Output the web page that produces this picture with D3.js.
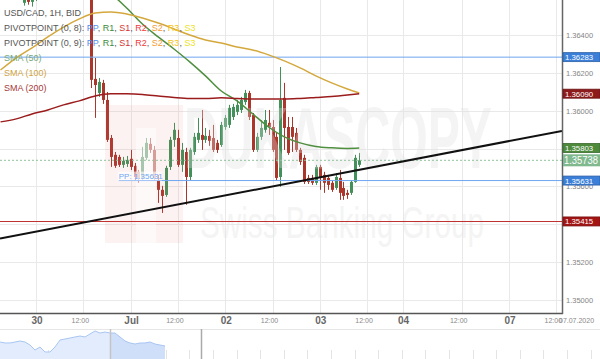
<!DOCTYPE html>
<html>
<head>
<meta charset="utf-8">
<script src="https://cdn.jsdelivr.net/npm/d3@7"></script>
<style>
  body { margin: 0; background: #fff; }
  svg { display: block; font-family: "Liberation Sans", Arial, sans-serif; }
</style>
</head>
<body>
<svg id="chart" width="600" height="359"></svg>
<script>
  // hourly candles, first one is 9 hours before 30 Jun 00:00
  const firstHour = -9;

  const opens = [1.36690,1.36675,1.36650,1.36670,1.36640,1.36620,1.36570,1.36615,1.36575,1.36630,
                 1.36660,1.36680,1.36700,1.36665,1.36630,1.36660,1.36645,1.36680,1.36720,1.36705,
                 1.36690,1.36665,1.36650,1.36640,1.36168,1.36094,1.36147,1.36057,1.35856,1.35767,
                 1.35756,1.35714,1.35719,1.35746,1.35709,1.35677,1.35645,1.35751,1.35825,1.35793,
                 1.35634,1.35582,1.35555,1.35703,1.35846,1.35856,1.35714,1.35782,1.35650,1.35782,
                 1.35846,1.35872,1.35846,1.35867,1.35856,1.35830,1.35819,1.35914,1.35925,1.35967,
                 1.35994,1.36004,1.36046,1.36094,1.35977,1.35793,1.35862,1.35899,1.35936,1.35914,
                 1.35862,1.35650,1.36068,1.35914,1.35914,1.35883,1.35793,1.35751,1.35645,1.35645,
                 1.35619,1.35703,1.35661,1.35645,1.35619,1.35592,1.35645,1.35592,1.35566,1.35566,
                 1.35624,1.35714];

  const highs = [1.36735,1.36710,1.36690,1.36700,1.36665,1.36650,1.36630,1.36640,1.36650,1.36680,
                 1.36700,1.36720,1.36730,1.36690,1.36680,1.36700,1.36690,1.36740,1.36760,1.36730,
                 1.36720,1.36700,1.36680,1.36665,1.36279,1.36173,1.36163,1.36099,1.35872,1.35782,
                 1.35767,1.35756,1.35761,1.35793,1.35724,1.35687,1.35809,1.35856,1.35856,1.35814,
                 1.35661,1.35603,1.35709,1.35862,1.35936,1.35899,1.35830,1.35804,1.35804,1.35883,
                 1.35962,1.36004,1.35909,1.35899,1.35925,1.35846,1.35941,1.35977,1.36031,1.36036,
                 1.36057,1.36073,1.36110,1.36105,1.35988,1.35883,1.35951,1.36004,1.36004,1.35951,
                 1.35883,1.36231,1.36147,1.35967,1.35967,1.35909,1.35804,1.35767,1.35661,1.35661,
                 1.35714,1.35714,1.35677,1.35661,1.35634,1.35671,1.35687,1.35624,1.35582,1.35634,
                 1.35767,1.35777];

  const lows = [1.36660,1.36640,1.36625,1.36630,1.36605,1.36595,1.36555,1.36560,1.36550,1.36580,
                1.36620,1.36645,1.36650,1.36590,1.36610,1.36630,1.36620,1.36660,1.36690,1.36670,
                1.36650,1.36630,1.36610,1.36120,1.35962,1.36073,1.36036,1.35835,1.35703,1.35698,
                1.35703,1.35698,1.35703,1.35687,1.35634,1.35619,1.35634,1.35740,1.35777,1.35629,
                1.35513,1.35460,1.35545,1.35687,1.35809,1.35703,1.35677,1.35503,1.35634,1.35767,
                1.35830,1.35793,1.35830,1.35814,1.35782,1.35777,1.35809,1.35899,1.35909,1.35951,
                1.35977,1.35988,1.36031,1.35951,1.35782,1.35782,1.35846,1.35883,1.35872,1.35782,
                1.35634,1.35598,1.35793,1.35767,1.35782,1.35782,1.35714,1.35613,1.35613,1.35608,
                1.35608,1.35582,1.35566,1.35582,1.35571,1.35582,1.35529,1.35529,1.35534,1.35555,
                1.35619,1.35703];

  const closes = [1.36675,1.36650,1.36670,1.36640,1.36620,1.36600,1.36615,1.36575,1.36630,1.36660,
                  1.36680,1.36700,1.36665,1.36630,1.36660,1.36645,1.36680,1.36720,1.36705,1.36690,
                  1.36665,1.36650,1.36640,1.36163,1.36136,1.36152,1.36057,1.35846,1.35756,1.35709,
                  1.35714,1.35735,1.35740,1.35703,1.35650,1.35645,1.35756,1.35830,1.35793,1.35645,
                  1.35582,1.35550,1.35698,1.35846,1.35899,1.35714,1.35793,1.35650,1.35793,1.35862,
                  1.35883,1.35846,1.35867,1.35841,1.35793,1.35793,1.35925,1.35962,1.36015,1.36020,
                  1.36031,1.36057,1.36094,1.35967,1.35793,1.35862,1.35909,1.35951,1.35914,1.35793,
                  1.35645,1.36057,1.35909,1.35777,1.35862,1.35793,1.35730,1.35624,1.35624,1.35619,
                  1.35703,1.35645,1.35619,1.35608,1.35582,1.35650,1.35566,1.35550,1.35555,1.35624,
                  1.35751,1.35738];

  // moving averages, sampled every few hours
  const smaHours = [-9,-5,-1,3,7,11,15,19,23,27,31,35,39,43,47,51,55,59,63,67,71,75,79,82];
  const sma50  = [1.36765,1.36765,1.36760,1.36750,1.36730,1.36700,1.36660,1.36617,1.36543,1.36458,
                  1.36390,1.36326,1.36258,1.36184,1.36104,1.36052,1.35983,1.35914,1.35862,1.35830,
                  1.35811,1.35804,1.35801,1.35803];
  const sma100 = [1.36215,1.36279,1.36332,1.36390,1.36442,1.36485,1.36516,1.36522,1.36511,1.36490,
                  1.36463,1.36432,1.36400,1.36374,1.36358,1.36337,1.36321,1.36295,1.36263,1.36226,
                  1.36184,1.36147,1.36115,1.36094];
  const sma200 = [1.35941,1.35957,1.35983,1.36004,1.36031,1.36052,1.36078,1.36089,1.36089,1.36086,
                  1.36078,1.36070,1.36065,1.36065,1.36068,1.36065,1.36062,1.36062,1.36062,1.36065,
                  1.36070,1.36075,1.36083,1.36090];

  // levels
  const prevPivot = 1.36283;
  const pivotPP = 1.35631;
  const pivotStartHour = 21;
  const supportS1 = 1.35415;
  const lastPrice = 1.35738;
  const trendHours = [-9, 82];
  const trendPrices = [1.35325, 1.35688];
  const boxPrices = [1.36283, 1.36090, 1.35803, 1.35631, 1.35415];

  // axes (1.358 and 1.354 sit fully behind price boxes)
  const yTicks = [1.350, 1.352, 1.354, 1.356, 1.358, 1.360, 1.362, 1.364];
  const yTickLabels = [1.350, 1.352, 1.356, 1.360, 1.362, 1.364];
  const xTickHours = [0, 12, 24, 36, 48, 60, 72, 84, 93, 108, 120, 132];
  const xTickLabels = ["30", "12:00", "Jul", "12:00", "02", "12:00", "03", "12:00", "04", "12:00", "07", "12:00"];
  const dateLabel = "07.07.2020";

  // navigator overview (long history)
  const navValues = [1.3583,1.3567,1.3567,1.3583,1.3600,1.3583,1.3533,1.3450,1.3500,1.3417,
                     1.3417,1.3500,1.3617,1.3633,1.3650,1.3667,1.3683,1.3667,1.3717,1.3767,
                     1.3733,1.3750,1.3733,1.3733,1.3667,1.3600,1.3567,1.3550,1.3567,1.3567,
                     1.3583,1.3550,1.3533,1.3517];
  const navWindow = [22, 40.2];

  const legendTitle = "USD/CAD, 1H, BID";
  const pivotNames = ["PIVOTPOINT (0, 8): ", "PIVOTPOINT (0, 9): "];
  const pivotKeys = ["PP", "R1", "S1", "R2", "S2", "R3", "S3"];
  const smaNames = ["SMA (50)", "SMA (100)", "SMA (200)"];

  // styles
  const pivotColors = ["#4f8ff0", "#3c8c3c", "#d23434", "#f03c3c", "#f49b33", "#f3c21b", "#ece21e"];
  const smaColors = ["#4f8f3f", "#d4a83c", "#9b1c1c"];
  const smaTextColors = ["#78a878", "#cfa446", "#a53b3b"];
  const boxFills = ["#3b7fd9", "#8e1b1b", "#4d8a3c", "#3b7fd9", "#a31515"];
  const upColor = "#44905a", downColor = "#ab362c";

  const plotW = 562, plotH = 313;

  let x = d3.scaleLinear().domain([0, 132]).range([36, 556.3]);
  let y = d3.scaleLinear().domain([1.350, 1.364]).range([300, 35]);

  let svg = d3.select("#chart");

  svg.append("defs").append("clipPath")
     .attr("id", "plotClip")
     .append("rect")
     .attr("width", plotW)
     .attr("height", plotH);

  let plot = svg.append("g").attr("clip-path", "url(#plotClip)");

  // Grid
  plot.selectAll(".hgrid")
      .data(yTicks)
      .enter()
      .append("line")
      .attr("x1", 0)
      .attr("x2", plotW)
      .attr("y1", (d) => Math.round(y(d)) + 0.5)
      .attr("y2", (d) => Math.round(y(d)) + 0.5)
      .attr("stroke", "#e9e9e9");

  plot.selectAll(".vgrid")
      .data(xTickHours)
      .enter()
      .append("line")
      .attr("x1", (d) => Math.round(x(d)) + 0.5)
      .attr("x2", (d) => Math.round(x(d)) + 0.5)
      .attr("y1", 0)
      .attr("y2", plotH)
      .attr("stroke", "#e9e9e9");

  // Candles
  let candles = opens.map((o, i) => ({
    hour: firstHour + i, open: o, high: highs[i], low: lows[i], close: closes[i]
  }));

  let cg = plot.selectAll(".candle")
               .data(candles)
               .enter()
               .append("g");

  cg.append("line")
    .attr("x1", (d) => Math.round(x(d.hour)) + 0.5)
    .attr("x2", (d) => Math.round(x(d.hour)) + 0.5)
    .attr("y1", (d) => y(d.high))
    .attr("y2", (d) => y(d.low))
    .attr("stroke", (d) => d.close >= d.open ? upColor : downColor);

  cg.append("rect")
    .attr("x", (d) => Math.round(x(d.hour)) - 1)
    .attr("width", 3)
    .attr("y", (d) => y(Math.max(d.open, d.close)))
    .attr("height", (d) => Math.max(1, Math.abs(y(d.open) - y(d.close))))
    .attr("fill", (d) => d.close >= d.open ? upColor : downColor);

  // Watermark (drawn over candles, semi transparent)
  let wm = plot.append("g");
  wm.append("rect")
    .attr("x", 105).attr("y", 105)
    .attr("width", 78).attr("height", 138)
    .attr("fill", "#e07070")
    .attr("opacity", 0.09);
  wm.append("rect")
    .attr("x", 136).attr("y", 128)
    .attr("width", 20).attr("height", 115)
    .attr("fill", "#fff")
    .attr("opacity", 0.5);
  wm.append("text")
    .attr("x", 184).attr("y", 168)
    .attr("font-size", 88)
    .attr("font-weight", "bold")
    .attr("textLength", 308)
    .attr("lengthAdjust", "spacingAndGlyphs")
    .attr("fill", "#e0e0e0")
    .attr("opacity", 0.32);
  wm.select("text:last-child").text("DUKASCOPY");
  wm.append("text")
    .attr("x", 200).attr("y", 238)
    .attr("font-size", 44)
    .attr("textLength", 284)
    .attr("lengthAdjust", "spacingAndGlyphs")
    .attr("fill", "#e6e6e6")
    .attr("opacity", 0.4)
    .text("Swiss Banking Group");

  // Horizontal levels
  plot.append("line")
      .attr("x1", 0).attr("x2", plotW)
      .attr("y1", y(prevPivot)).attr("y2", y(prevPivot))
      .attr("stroke", "#6fa6f2");

  plot.append("line")
      .attr("x1", x(pivotStartHour)).attr("x2", plotW)
      .attr("y1", y(pivotPP)).attr("y2", y(pivotPP))
      .attr("stroke", "#6fa6f2");

  plot.append("line")
      .attr("x1", 0).attr("x2", plotW)
      .attr("y1", Math.round(y(supportS1)) + 0.5).attr("y2", Math.round(y(supportS1)) + 0.5)
      .attr("stroke", "#c03232");

  plot.append("line")
      .attr("x1", 0).attr("x2", plotW)
      .attr("y1", y(lastPrice)).attr("y2", y(lastPrice))
      .attr("stroke", "#8fc29c")
      .attr("stroke-dasharray", "2,2");

  // PP label
  plot.append("rect")
      .attr("x", x(pivotStartHour) - 1).attr("y", y(pivotPP) - 9)
      .attr("width", 44).attr("height", 9)
      .attr("fill", "#fff")
      .attr("opacity", 0.6);
  plot.append("text")
      .attr("x", x(pivotStartHour)).attr("y", y(pivotPP) - 2)
      .attr("font-size", 8)
      .attr("fill", "#6fa6f2")
      .text("PP: " + pivotPP.toFixed(5));

  // Trend line
  let slope = (trendPrices[1] - trendPrices[0]) / (trendHours[1] - trendHours[0]);
  let hL = x.invert(0), hR = x.invert(plotW);
  plot.append("line")
      .attr("x1", x(hL)).attr("y1", y(trendPrices[0] + slope * (hL - trendHours[0])))
      .attr("x2", x(hR)).attr("y2", y(trendPrices[0] + slope * (hR - trendHours[0])))
      .attr("stroke", "#111")
      .attr("stroke-width", 2);

  // SMA lines
  let smaLine = d3.line()
                  .x((d) => x(d[0]))
                  .y((d) => y(d[1]))
                  .curve(d3.curveMonotoneX);

  [sma50, sma100, sma200].forEach((vals, i) => {
    plot.append("path")
        .datum(smaHours.map((h, j) => [h, vals[j]]))
        .attr("d", smaLine)
        .attr("fill", "none")
        .attr("stroke", smaColors[i])
        .attr("stroke-width", 1.5);
  });

  // Legend
  let legend = svg.append("g").attr("font-size", 9);
  legend.append("text").attr("x", 4).attr("y", 16).attr("fill", "#555").text(legendTitle);
  pivotNames.forEach((name, i) => {
    let t = legend.append("text").attr("x", 4).attr("y", 31 + i * 15).attr("fill", "#555");
    t.append("tspan").text(name);
    pivotKeys.forEach((k, j) => {
      t.append("tspan").attr("fill", pivotColors[j]).text(k);
      if (j < pivotKeys.length - 1) t.append("tspan").text(", ");
    });
  });
  smaNames.forEach((name, i) => {
    legend.append("text")
          .attr("x", 4).attr("y", 61 + i * 15)
          .attr("fill", smaTextColors[i])
          .text(name);
  });

  // Plot frame (bottom and right)
  svg.append("line")
     .attr("x1", 0).attr("x2", plotW + 1)
     .attr("y1", plotH + 0.5).attr("y2", plotH + 0.5)
     .attr("stroke", "#555").attr("stroke-width", 1.5);
  svg.append("line")
     .attr("x1", plotW + 0.5).attr("x2", plotW + 0.5)
     .attr("y1", 0).attr("y2", plotH + 1)
     .attr("stroke", "#666").attr("stroke-width", 1.5);

  // Right axis labels
  svg.append("g")
     .selectAll("text")
     .data(yTickLabels)
     .enter()
     .append("text")
     .attr("x", 566)
     .attr("y", (d) => y(d) + 3)
     .attr("font-size", 7.5)
     .attr("fill", "#858585")
     .text((d) => d.toFixed(5));

  // Price boxes
  let boxes = svg.append("g");
  boxPrices.forEach((p, i) => {
    boxes.append("rect")
         .attr("x", plotW + 1).attr("y", y(p) - 4.5)
         .attr("width", 600 - plotW - 1).attr("height", 9)
         .attr("fill", boxFills[i])
         .attr("stroke", d3.color(boxFills[i]).darker(0.8))
         .attr("stroke-width", 0.8);
    boxes.append("text")
         .attr("x", 565).attr("y", y(p) + 3)
         .attr("font-size", 7.8)
         .attr("fill", "#fff")
         .text(p.toFixed(5));
  });
  boxes.append("rect")
       .attr("x", plotW + 1).attr("y", y(lastPrice) - 6)
       .attr("width", 600 - plotW - 1).attr("height", 12)
       .attr("fill", "#80b98e");
  boxes.append("text")
       .attr("x", 564).attr("y", y(lastPrice) + 4)
       .attr("font-size", 10)
       .attr("textLength", 34)
       .attr("lengthAdjust", "spacingAndGlyphs")
       .attr("fill", "#fff")
       .text(lastPrice.toFixed(5));

  // Bottom axis
  let xAxis = svg.append("g");
  xAxis.selectAll("text")
       .data(xTickHours)
       .enter()
       .append("text")
       .attr("x", (d, i) => x(d) + (i % 2 === 0 ? 1 : -3))
       .attr("y", (d, i) => i % 2 === 0 ? 324 : 323)
       .attr("text-anchor", "middle")
       .attr("font-size", (d, i) => i % 2 === 0 ? 10 : 7)
       .attr("font-weight", (d, i) => i % 2 === 0 ? "bold" : "normal")
       .attr("fill", (d, i) => i % 2 === 0 ? "#666" : "#888")
       .text((d, i) => xTickLabels[i]);
  xAxis.append("text")
       .attr("x", 559).attr("y", 323)
       .attr("font-size", 7)
       .attr("fill", "#888")
       .text(dateLabel);

  // Navigator
  let nav = svg.append("g");
  let nx = d3.scaleLinear().domain([0, navValues.length - 1]).range([0, 165]);
  let ny = d3.scaleLinear().domain([1.33, 1.38]).range([359, 329]);

  nav.append("line")
     .attr("x1", 0).attr("x2", 600)
     .attr("y1", 329.5).attr("y2", 329.5)
     .attr("stroke", "#e6e6e6");

  nav.selectAll(".navtick")
     .data(d3.range(0.5, 600, 23.6))
     .enter()
     .append("line")
     .attr("x1", (d) => Math.round(d) + 0.5)
     .attr("x2", (d) => Math.round(d) + 0.5)
     .attr("y1", 350).attr("y2", 359)
     .attr("stroke", "#e4e4e4");

  let navArea = d3.area()
                  .x((d, i) => nx(i))
                  .y0(359)
                  .y1((d) => ny(d));

  nav.append("path")
     .datum(navValues)
     .attr("d", navArea)
     .attr("fill", "#e2ecfc");

  nav.append("clipPath").attr("id", "navClip")
     .append("rect")
     .attr("x", nx(navWindow[0])).attr("y", 329)
     .attr("width", nx(navWindow[1]) - nx(navWindow[0])).attr("height", 30);

  nav.append("path")
     .datum(navValues)
     .attr("d", navArea)
     .attr("clip-path", "url(#navClip)")
     .attr("fill", "#cfdff9");

  nav.append("path")
     .datum(navValues)
     .attr("d", d3.line().x((d, i) => nx(i)).y((d) => ny(d)))
     .attr("fill", "none")
     .attr("stroke", "#a9c6f3");

  nav.append("line")
     .attr("x1", Math.round(nx(navWindow[0])) + 0.5).attr("x2", Math.round(nx(navWindow[0])) + 0.5)
     .attr("y1", 329).attr("y2", 359)
     .attr("stroke", "#c4c4c4").attr("stroke-width", 1.5);
  nav.append("line")
     .attr("x1", Math.round(nx(navWindow[1])) + 0.5).attr("x2", Math.round(nx(navWindow[1])) + 0.5)
     .attr("y1", 329).attr("y2", 359)
     .attr("stroke", "#aaa").attr("stroke-width", 1.5);
</script>
</body>
</html>
